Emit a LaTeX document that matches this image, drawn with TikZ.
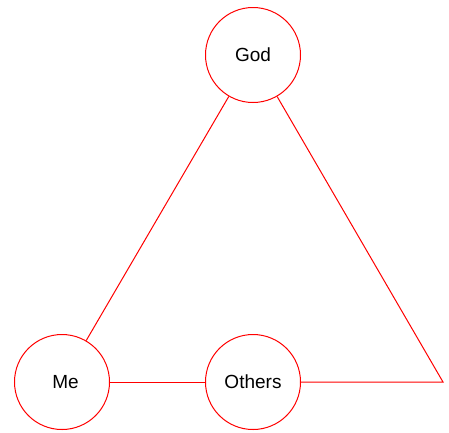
\documentclass[tikz,border=0pt]{standalone}
\usepackage{fontspec}
\setmainfont{Liberation Sans}
\begin{document}
\begin{tikzpicture}[x=1pt,y=-1pt,
  circ/.style={circle,draw=red,line width=1pt,minimum size=95pt,inner sep=0pt,font=\fontsize{19}{22}\selectfont},
  link/.style={draw=red,line width=1pt}]
\useasboundingbox (0,0) rectangle (449,432);
\node[circ] (god) at (253,55) {God};
\node[circ] (me) at (62,382) {\hspace*{7pt}Me};
\node[circ] (others) at (253,382) {Others};
\coordinate (corner) at (443,382);
\draw[link] (god) -- (me);
\draw[link] (me) -- (others);
\draw[link] (others) -- (corner) -- (god);
\end{tikzpicture}
\end{document}
